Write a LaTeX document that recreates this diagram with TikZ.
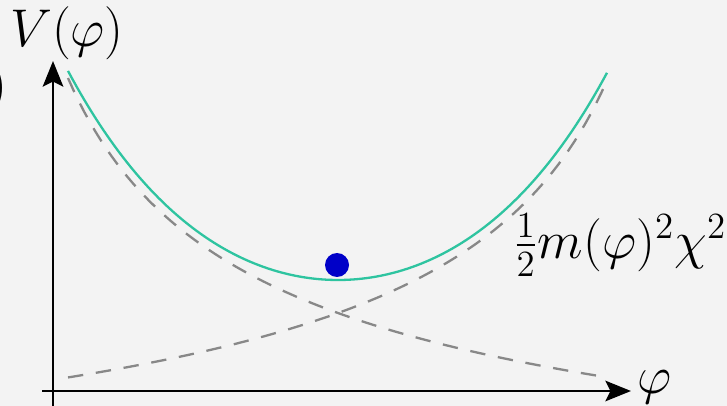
\documentclass[tikz,border=0pt]{standalone}
\usepackage{amsmath,amssymb}
\usepackage{tikz}
\usetikzlibrary{arrows.meta}
\definecolor{bgray}{RGB}{243,243,243}
\definecolor{curvegreen}{RGB}{46,196,160}
\definecolor{balblue}{RGB}{0,0,200}
\definecolor{dashgray}{RGB}{136,136,136}
\begin{document}
\begin{tikzpicture}[x=0.01372cm, y=-0.01372cm]
\tikzstyle{axis}=[line width=1.1pt, -{Stealth[length=10pt, width=8pt, inset=2pt]}]
\tikzstyle{branch}=[dashgray, dashed, line width=0.9pt, dash pattern=on 6pt off 5pt]
\tikzstyle{potential}=[curvegreen, line width=0.9pt]
\tikzstyle{lbl}=[inner sep=0pt, font=\huge]
\fill[bgray] (0,0) rectangle (727,406);
\useasboundingbox (0,0) rectangle (727,406);
% axes
\coordinate (xstart) at (42,391);
\coordinate (xend) at (631,391);
\coordinate (ystart) at (53,408);
\coordinate (yend) at (53,61);
\draw[axis] (xstart) -- (xend);
\draw[axis] (ystart) -- (yend);
\node[lbl, anchor=west] (philabel) at (637,387) {$\varphi$};
\node[lbl] (vlabel) at (67,33) {$V(\varphi)$};
\node[lbl, anchor=east] (cutlabel) at (8,88) {$)$};
% the two branches
\draw[branch] plot[domain=68:606, samples=100] (\x, {586.7-5335/sqrt(\x+42)});
\draw[branch] plot[domain=68:607, samples=100] (\x, {586.7-5335/sqrt(718-\x)});
% effective potential
\draw[potential] plot[domain=68:607, samples=120]
  (\x, {280-128.8*(cosh(0.006*(\x-338))-1)});
\node[circle, fill=balblue, minimum size=24*0.01372cm, inner sep=0pt] (ball) at (337,265) {};
\node[lbl] (masslabel) at (620,245) {$\frac{1}{2}m(\varphi)^2\chi^2$};
\end{tikzpicture}
\end{document}
